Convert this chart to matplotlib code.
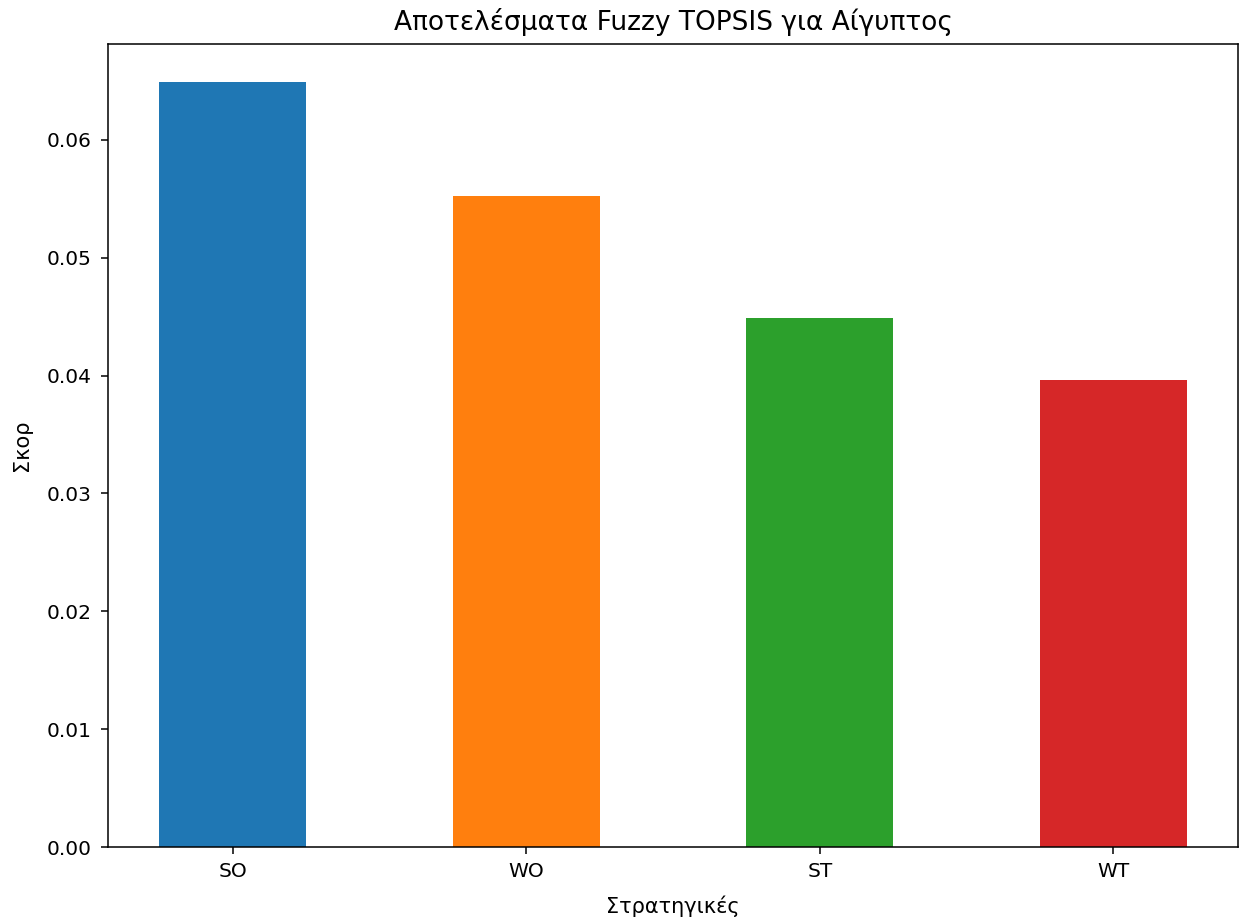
import matplotlib
matplotlib.use("Agg")
import matplotlib.pyplot as plt

strategies = ["SO", "WO", "ST", "WT"]
scores = [0.0649, 0.0552, 0.0449, 0.0396]
colors = ["#1f77b4", "#ff7f0e", "#2ca02c", "#d62728"]

fig = plt.figure(figsize=(12.4, 9.19), dpi=100)
ax = fig.add_axes([0.087, 0.0783, 0.9115, 0.874])

ax.bar(range(len(strategies)), scores, width=0.5, color=colors)
ax.set_xticks(range(len(strategies)))
ax.set_xticklabels(strategies)
ax.tick_params(labelsize=14.5, length=5, width=1.1)
ax.tick_params(axis="x", pad=6)
ax.tick_params(axis="y", pad=7)
for s in ax.spines.values():
    s.set_linewidth(1.1)

ax.set_title("Αποτελέσματα Fuzzy TOPSIS για Αίγυπτος", fontsize=19, pad=10)
ax.set_xlabel("Στρατηγικές", fontsize=15, labelpad=10)
ax.set_ylabel("Σκορ", fontsize=15, labelpad=10)

fig.savefig("out.png", dpi=100)
